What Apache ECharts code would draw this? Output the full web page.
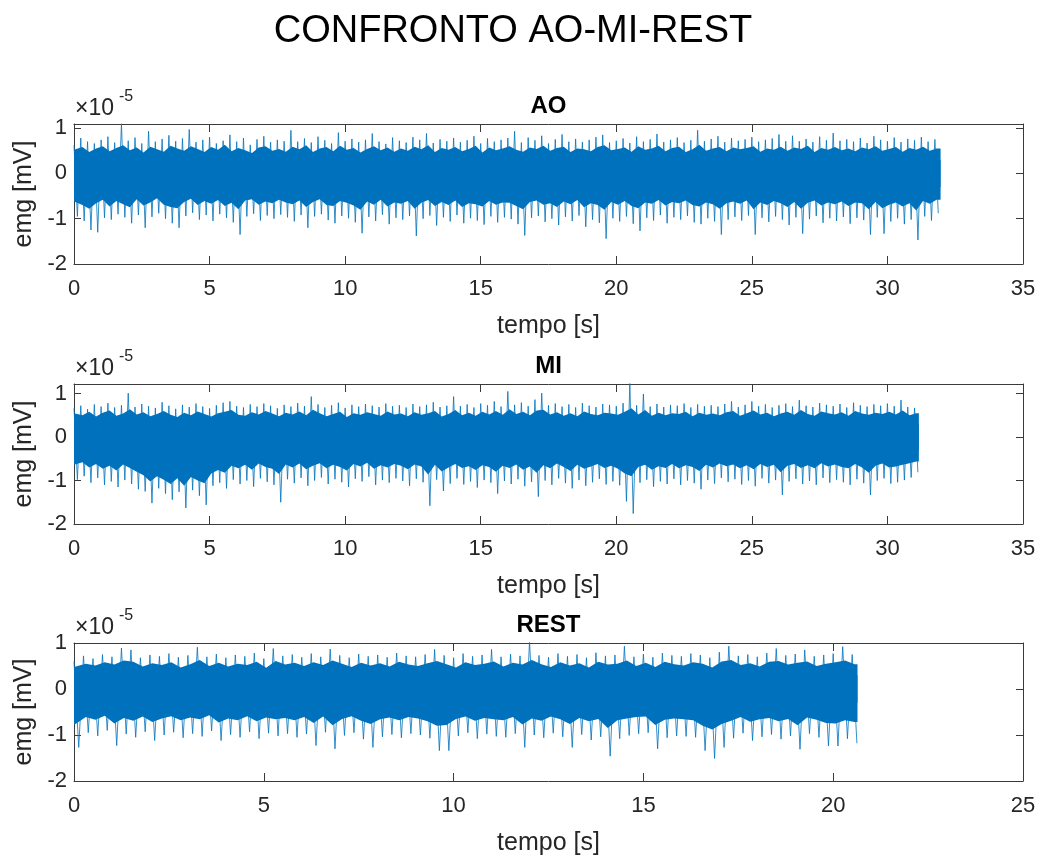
<!DOCTYPE html>
<html>
<head>
<meta charset="utf-8">
<script src="https://cdn.jsdelivr.net/npm/echarts@6/dist/echarts.min.js"></script>
<style>
  html, body { margin: 0; padding: 0; background: #fff; }
  #chart { width: 1045px; height: 857px; }
</style>
</head>
<body>
<div id="chart"></div>
<script>
// EMG traces, amplitudes in units of 1e-5 mV.
// Each trace, per 0.25 s bin: the extreme peak / trough, and the upper /
// lower edge of the dense central band.
const binStep = 0.25;   // s

const panelNames = ['AO', 'MI', 'REST'];
const xMaxes = [35, 35, 25];
const yMaxes = [1.09, 1.22, 1.0];
const yTickValues = [-2, -1, 0, 1];
const xTickStep = 5;

// ---- AO ----
const aoEnd = 31.96;
const aoPeaks = [
  0.62,0.78,0.70,0.66,0.74,0.81,0.68,1.10,0.72,0.79,0.66,0.93,0.70,0.76,0.84,0.71,
  0.77,0.97,0.69,0.74,0.80,0.66,0.72,0.85,0.70,0.78,0.63,0.75,0.82,0.69,0.74,0.71,
  0.95,0.70,0.77,0.68,0.81,0.73,0.66,0.90,0.71,0.76,0.69,0.74,0.88,0.70,0.65,0.79,
  0.72,0.68,0.80,0.74,0.88,0.67,0.75,0.71,0.78,0.69,0.73,0.82,0.66,0.77,0.70,0.74,
  0.78,0.93,0.68,0.79,0.73,0.83,0.66,0.75,0.86,0.70,0.76,0.69,0.74,0.80,0.85,0.68,
  0.72,0.77,0.67,0.81,0.70,0.75,0.87,0.69,0.74,0.79,0.68,0.73,0.95,0.71,0.76,0.82,
  0.69,0.78,0.72,0.75,0.80,0.70,0.74,0.77,0.86,0.71,0.83,0.71,0.76,0.69,0.81,0.73,
  0.89,0.72,0.75,0.70,0.78,0.67,0.82,0.74,0.71,0.79,0.69,0.76,0.73,0.80,0.70,0.75
];
const aoTroughs = [
  -0.95,-1.05,-1.25,-1.30,-0.98,-1.02,-0.90,-0.97,-1.10,-0.92,-1.20,-0.96,-0.88,-1.00,-1.10,-1.20,
  -0.94,-0.87,-1.02,-0.92,-1.05,-0.90,-0.98,-1.08,-1.35,-0.95,-0.89,-1.04,-0.93,-1.00,-0.91,-0.97,
  -1.06,-0.92,-1.20,-0.95,-0.90,-1.03,-1.10,-0.94,-0.99,-1.08,-1.32,-0.96,-1.05,-0.91,-1.12,-0.98,
  -1.02,-0.94,-1.38,-1.00,-0.93,-1.15,-0.97,-1.06,-0.92,-1.10,-0.99,-1.04,-1.13,-0.95,-1.08,-0.97,
  -1.01,-1.12,-1.37,-0.98,-0.94,-1.07,-1.00,-1.14,-0.96,-1.05,-0.93,-1.18,-1.02,-1.09,-1.44,-0.99,
  -1.06,-0.95,-1.11,-1.27,-0.98,-1.04,-0.92,-1.10,-0.97,-1.02,-0.94,-1.08,-1.12,-0.99,-1.06,-1.35,
  -1.02,-0.96,-1.04,-0.93,-1.35,-0.98,-1.07,-0.95,-1.02,-1.14,-0.97,-1.33,-1.01,-0.94,-1.09,-0.99,
  -1.05,-0.96,-1.11,-0.98,-1.03,-1.35,-0.97,-1.33,-1.06,-0.99,-1.12,-1.02,-1.47,-0.95,-1.04,-0.88
];
const aoBandHi = [
  0.52,0.58,0.47,0.55,0.60,0.49,0.56,0.62,0.51,0.57,0.46,0.59,0.53,0.48,0.61,0.55,
  0.50,0.60,0.54,0.47,0.58,0.52,0.63,0.49,0.56,0.51,0.45,0.57,0.60,0.50,0.54,0.48,
  0.59,0.53,0.62,0.47,0.55,0.58,0.49,0.61,0.52,0.56,0.46,0.54,0.60,0.51,0.57,0.48,
  0.55,0.50,0.59,0.53,0.62,0.47,0.56,0.52,0.58,0.49,0.54,0.61,0.46,0.57,0.51,0.55,
  0.60,0.52,0.48,0.57,0.54,0.61,0.50,0.56,0.59,0.47,0.55,0.53,0.49,0.58,0.62,0.51,
  0.54,0.57,0.48,0.60,0.52,0.55,0.61,0.49,0.56,0.59,0.47,0.53,0.63,0.50,0.55,0.58,
  0.49,0.57,0.53,0.56,0.60,0.48,0.55,0.52,0.59,0.50,0.57,0.54,0.61,0.47,0.56,0.52,
  0.58,0.51,0.55,0.49,0.57,0.53,0.60,0.50,0.54,0.58,0.48,0.56,0.52,0.59,0.50,0.55
];
const aoBandLo = [
  -0.62,-0.70,-0.78,-0.66,-0.58,-0.73,-0.61,-0.68,-0.75,-0.57,-0.71,-0.64,-0.55,-0.69,-0.74,-0.77,
  -0.63,-0.56,-0.70,-0.61,-0.67,-0.59,-0.72,-0.65,-0.79,-0.60,-0.57,-0.69,-0.62,-0.66,-0.58,-0.64,
  -0.68,-0.60,-0.74,-0.63,-0.57,-0.70,-0.72,-0.61,-0.65,-0.71,-0.80,-0.62,-0.69,-0.58,-0.73,-0.64,
  -0.67,-0.61,-0.78,-0.65,-0.59,-0.72,-0.63,-0.70,-0.60,-0.74,-0.66,-0.68,-0.73,-0.61,-0.69,-0.64,
  -0.65,-0.72,-0.79,-0.63,-0.60,-0.69,-0.66,-0.74,-0.62,-0.68,-0.59,-0.75,-0.66,-0.70,-0.80,-0.63,
  -0.69,-0.61,-0.72,-0.77,-0.64,-0.67,-0.59,-0.71,-0.63,-0.66,-0.60,-0.70,-0.73,-0.64,-0.68,-0.78,
  -0.66,-0.62,-0.67,-0.60,-0.79,-0.64,-0.70,-0.61,-0.66,-0.74,-0.63,-0.78,-0.65,-0.60,-0.71,-0.64,
  -0.68,-0.62,-0.72,-0.64,-0.66,-0.79,-0.63,-0.77,-0.69,-0.64,-0.73,-0.66,-0.82,-0.61,-0.67,-0.58
];

// ---- MI ----
const miEnd = 31.16;
const miPeaks = [
  0.66,0.72,0.64,0.75,0.70,0.78,0.68,0.73,1.01,0.69,0.76,0.71,0.67,0.80,0.72,0.65,
  0.74,0.69,0.77,0.70,0.66,0.73,0.79,0.82,0.71,0.68,0.75,0.70,0.77,0.72,0.66,0.74,
  0.70,0.78,0.71,0.93,0.75,0.68,0.73,0.79,0.67,0.74,0.70,0.76,0.72,0.69,0.77,0.71,
  0.73,0.68,0.76,0.70,0.74,0.80,0.69,0.72,0.93,0.71,0.75,0.68,0.77,0.73,0.82,0.70,
  1.05,0.74,0.79,0.71,0.86,1.01,0.73,0.77,0.70,0.75,0.68,0.78,0.72,0.69,0.76,0.74,
  0.71,0.78,1.24,0.73,0.99,0.70,0.76,0.69,0.74,0.72,0.77,0.68,0.75,0.71,0.73,0.70,
  0.76,0.82,0.69,0.74,0.82,0.71,0.75,0.68,0.73,0.77,0.70,0.85,0.72,0.69,0.78,0.74,
  0.71,0.76,0.68,0.79,0.73,0.70,0.75,0.72,0.77,0.71,0.85,0.69,0.67
];
const miTroughs = [
  -0.98,-0.90,-1.05,-0.94,-1.10,-1.02,-1.15,-0.99,-1.08,-1.20,-1.25,-1.52,-1.18,-1.30,-1.44,-1.26,
  -1.63,-1.22,-1.35,-1.56,-1.12,-1.05,-1.18,-0.98,-1.08,-1.00,-1.14,-0.95,-1.03,-1.10,-1.50,-0.97,
  -1.06,-0.94,-1.12,-1.00,-0.93,-1.08,-0.97,-1.04,-1.15,-0.96,-1.02,-0.91,-1.10,-0.99,-1.05,-0.95,
  -1.01,-1.12,-0.96,-1.04,-1.58,-0.98,-1.24,-1.07,-0.95,-1.09,-1.02,-1.16,-0.99,-1.05,-1.30,-1.01,
  -1.08,-0.97,-1.13,-1.03,-1.37,-1.00,-1.10,-0.95,-1.06,-1.18,-0.99,-1.12,-1.04,-0.96,-1.09,-1.02,
  -1.11,-1.48,-1.76,-1.05,-0.98,-1.14,-1.02,-1.08,-0.96,-1.10,-1.00,-1.06,-1.20,-0.99,-1.07,-0.94,
  -1.03,-0.97,-1.09,-1.00,-1.13,-0.95,-1.06,-0.99,-1.33,-1.02,-0.96,-1.08,-1.01,-1.10,-0.94,-1.05,
  -0.98,-1.04,-1.10,-0.97,-1.06,-1.33,-1.00,-0.95,-1.07,-1.04,-0.99,-0.93,-0.81
];
const miBandHi = [
  0.55,0.50,0.58,0.47,0.56,0.61,0.49,0.54,0.64,0.52,0.57,0.48,0.53,0.60,0.51,0.46,
  0.56,0.50,0.59,0.53,0.47,0.55,0.58,0.62,0.51,0.49,0.57,0.52,0.60,0.54,0.48,0.56,
  0.52,0.59,0.50,0.63,0.55,0.48,0.53,0.58,0.46,0.55,0.51,0.57,0.53,0.49,0.59,0.52,
  0.54,0.48,0.57,0.51,0.55,0.60,0.47,0.53,0.62,0.50,0.56,0.49,0.58,0.52,0.60,0.51,
  0.64,0.53,0.58,0.50,0.61,0.63,0.52,0.57,0.49,0.55,0.48,0.59,0.53,0.50,0.56,0.54,
  0.51,0.58,0.66,0.52,0.62,0.49,0.56,0.50,0.55,0.53,0.58,0.48,0.56,0.51,0.54,0.50,
  0.57,0.60,0.49,0.55,0.61,0.52,0.56,0.48,0.54,0.58,0.51,0.62,0.53,0.49,0.59,0.55,
  0.52,0.57,0.49,0.60,0.54,0.51,0.56,0.53,0.58,0.52,0.61,0.50,0.55
];
const miBandLo = [
  -0.64,-0.58,-0.70,-0.62,-0.73,-0.66,-0.77,-0.63,-0.71,-0.80,-0.88,-1.02,-0.90,-0.98,-1.08,-0.95,
  -1.12,-0.92,-1.00,-1.06,-0.84,-0.76,-0.82,-0.66,-0.72,-0.64,-0.75,-0.61,-0.69,-0.73,-0.85,-0.63,
  -0.70,-0.61,-0.74,-0.66,-0.60,-0.72,-0.64,-0.69,-0.77,-0.62,-0.68,-0.59,-0.73,-0.65,-0.70,-0.62,
  -0.66,-0.74,-0.63,-0.68,-0.86,-0.64,-0.79,-0.70,-0.62,-0.71,-0.67,-0.76,-0.65,-0.69,-0.80,-0.66,
  -0.71,-0.63,-0.75,-0.68,-0.82,-0.65,-0.72,-0.61,-0.69,-0.78,-0.64,-0.73,-0.68,-0.62,-0.71,-0.66,
  -0.73,-0.84,-0.90,-0.69,-0.64,-0.75,-0.67,-0.71,-0.62,-0.72,-0.65,-0.69,-0.78,-0.64,-0.70,-0.61,
  -0.67,-0.63,-0.72,-0.65,-0.74,-0.62,-0.69,-0.64,-0.81,-0.66,-0.62,-0.71,-0.65,-0.72,-0.60,-0.68,
  -0.63,-0.69,-0.72,-0.62,-0.70,-0.82,-0.66,-0.61,-0.70,-0.68,-0.64,-0.60,-0.56
];

// ---- REST ----
const restEnd = 20.64;
const restPeaks = [
  0.60,0.72,0.66,0.75,0.70,0.89,0.85,0.68,0.74,0.71,0.77,0.69,0.73,0.91,0.70,0.76,
  0.68,0.74,0.71,0.78,0.66,0.88,0.72,0.75,0.69,0.77,0.70,0.87,0.73,0.68,0.76,0.71,
  0.74,0.69,0.78,0.72,0.70,0.75,0.86,0.73,0.68,0.77,0.71,0.74,0.86,0.70,0.76,0.72,
  1.04,0.73,0.69,0.77,0.71,0.75,0.68,0.79,0.72,0.74,0.93,0.70,0.76,0.69,0.78,0.73,
  0.71,0.77,0.74,0.68,0.80,0.93,0.72,0.75,0.70,0.78,0.88,0.73,0.76,0.85,0.71,0.74,
  0.77,0.92,0.75
];
const restTroughs = [
  -1.27,-0.95,-1.02,-0.90,-1.23,-0.98,-1.05,-0.93,-1.12,-1.00,-0.94,-1.06,-0.97,-1.03,-0.91,-1.12,
  -0.99,-1.05,-0.93,-1.08,-0.96,-1.02,-0.97,-1.05,-0.98,-1.23,-0.94,-1.30,-1.01,-0.95,-1.09,-1.27,
  -1.04,-0.99,-1.06,-0.97,-1.00,-1.07,-1.34,-1.34,-1.02,-0.95,-1.08,-0.98,-1.03,-1.05,-0.97,-1.27,
  -1.00,-1.06,-0.96,-1.04,-1.27,-0.99,-1.11,-1.04,-1.46,-1.08,-1.01,-0.97,-0.95,-1.30,-1.06,-1.02,
  -1.03,-1.05,-1.34,-1.51,-1.27,-1.07,-0.96,-1.12,-1.04,-0.99,-1.09,-1.02,-1.31,-0.97,-1.05,-1.24,
  -1.24,-1.08,-1.18
];
const restBandHi = [
  0.48,0.55,0.51,0.58,0.53,0.62,0.59,0.49,0.56,0.52,0.58,0.47,0.54,0.63,0.50,0.57,
  0.49,0.55,0.52,0.59,0.46,0.61,0.53,0.57,0.50,0.58,0.52,0.62,0.55,0.48,0.57,0.51,
  0.56,0.49,0.59,0.53,0.50,0.56,0.61,0.54,0.47,0.58,0.52,0.55,0.60,0.49,0.57,0.53,
  0.63,0.54,0.48,0.58,0.51,0.56,0.47,0.59,0.53,0.55,0.62,0.50,0.57,0.48,0.59,0.54,
  0.51,0.58,0.55,0.47,0.60,0.63,0.52,0.56,0.49,0.59,0.61,0.53,0.57,0.60,0.50,0.55,
  0.58,0.62,0.54
];
const restBandLo = [
  -0.78,-0.61,-0.67,-0.58,-0.75,-0.63,-0.69,-0.60,-0.72,-0.64,-0.59,-0.68,-0.62,-0.66,-0.57,-0.73,
  -0.64,-0.68,-0.59,-0.70,-0.62,-0.66,-0.63,-0.68,-0.61,-0.74,-0.60,-0.79,-0.65,-0.59,-0.69,-0.76,
  -0.66,-0.62,-0.68,-0.61,-0.64,-0.70,-0.80,-0.78,-0.65,-0.60,-0.69,-0.63,-0.66,-0.68,-0.61,-0.77,
  -0.64,-0.69,-0.60,-0.66,-0.76,-0.63,-0.70,-0.65,-0.85,-0.68,-0.64,-0.61,-0.60,-0.78,-0.67,-0.64,
  -0.66,-0.68,-0.80,-0.88,-0.76,-0.69,-0.61,-0.71,-0.66,-0.63,-0.70,-0.65,-0.79,-0.62,-0.67,-0.74,
  -0.75,-0.68,-0.72
];

const traces = [
  { end: aoEnd,   peaks: aoPeaks,   troughs: aoTroughs,   bandHi: aoBandHi,   bandLo: aoBandLo },
  { end: miEnd,   peaks: miPeaks,   troughs: miTroughs,   bandHi: miBandHi,   bandLo: miBandLo },
  { end: restEnd, peaks: restPeaks, troughs: restTroughs, bandHi: restBandHi, bandLo: restBandLo }
];

// ---- styling / layout ----
const BLUE = '#0072BD';
const AXIS = '#3a3a3a';
const TEXT = '#262626';
const FONT = '"Liberation Sans", Arial, Helvetica, sans-serif';
const plotLeft = 74, plotWidth = 949;
const plotTops = [124, 384, 643];
const plotHeights = [140, 140, 139];

// Peak/trough pairs become an alternating polyline.
function zigzag(peaks, troughs) {
  const pts = [];
  peaks.forEach((p, i) => {
    const t = i * binStep;
    pts.push([t, p]);
    pts.push([t + binStep / 2, troughs[i]]);
  });
  return pts;
}
// Band edge, one point per bin, closed at the end of the recording.
function bandEdge(values, end) {
  const pts = values.map((v, i) => [i === 0 ? 0 : i * binStep + binStep / 4, v]);
  pts.push([end, values[values.length - 1]]);
  return pts;
}

const grids = [], xAxes = [], yAxes = [], series = [], graphics = [];

traces.forEach((tr, k) => {
  grids.push({ left: plotLeft, top: plotTops[k], width: plotWidth, height: plotHeights[k], containLabel: false });

  const xBase = {
    type: 'value', gridIndex: k, min: 0, max: xMaxes[k], interval: xTickStep,
    axisLine: { show: true, onZero: false, lineStyle: { color: AXIS, width: 1 } },
    axisTick: { show: true, inside: true, length: 8, lineStyle: { color: AXIS, width: 1 } },
    splitLine: { show: false }
  };
  xAxes.push(Object.assign({}, xBase, {
    position: 'bottom',
    axisLabel: { color: TEXT, fontSize: 22, fontFamily: FONT, margin: 14 },
    name: 'tempo [s]', nameLocation: 'middle', nameGap: 50,
    nameTextStyle: { color: TEXT, fontSize: 25, fontFamily: FONT }
  }));
  xAxes.push(Object.assign({}, xBase, { position: 'top', axisLabel: { show: false } }));

  const yBase = {
    type: 'value', gridIndex: k, min: -2, max: yMaxes[k], interval: 1,
    axisLine: { show: true, onZero: false, lineStyle: { color: AXIS, width: 1 } },
    axisTick: { show: true, inside: true, length: 7, lineStyle: { color: AXIS, width: 1 } },
    splitLine: { show: false }
  };
  yAxes.push(Object.assign({}, yBase, {
    position: 'left',
    axisLabel: {
      color: TEXT, fontSize: 22, fontFamily: FONT, margin: 7, padding: [9, 0, 0, 0],
      formatter: v => (yTickValues.indexOf(Math.round(v * 1000) / 1000) >= 0 ? String(v) : '')
    },
    name: 'emg [mV]', nameLocation: 'middle', nameGap: 33, nameRotate: 90,
    nameTextStyle: { color: TEXT, fontSize: 25, fontFamily: FONT }
  }));
  yAxes.push(Object.assign({}, yBase, { position: 'right', axisLabel: { show: false } }));

  const axisRef = { xAxisIndex: 2 * k, yAxisIndex: 2 * k };
  // dense central band: upper edge filled down past zero, lower edge filled up past zero
  series.push(Object.assign({
    type: 'line', data: bandEdge(tr.bandHi, tr.end), symbol: 'none', silent: true,
    lineStyle: { width: 0 }, areaStyle: { color: BLUE, opacity: 1, origin: -0.3 }, z: 2
  }, axisRef));
  series.push(Object.assign({
    type: 'line', data: bandEdge(tr.bandLo, tr.end), symbol: 'none', silent: true,
    lineStyle: { width: 0 }, areaStyle: { color: BLUE, opacity: 1, origin: 0.3 }, z: 2
  }, axisRef));
  // spike trace
  series.push(Object.assign({
    type: 'line', data: zigzag(tr.peaks, tr.troughs), symbol: 'none', silent: true,
    sampling: null, lineStyle: { width: 0.8, color: BLUE }, z: 3
  }, axisRef));

  // panel title
  graphics.push({
    type: 'text', x: plotLeft + plotWidth / 2, y: plotTops[k] - 18,
    style: { text: panelNames[k], font: 'bold 24px ' + FONT, fill: '#000', align: 'center', verticalAlign: 'middle' }
  });
  // exponent of the y axis
  graphics.push({
    type: 'text', x: plotLeft + 1, y: plotTops[k] - 15,
    style: { text: '×10', font: '23px ' + FONT, fill: TEXT, align: 'left', verticalAlign: 'middle' }
  });
  graphics.push({
    type: 'text', x: plotLeft + 45, y: plotTops[k] - 27,
    style: { text: '-5', font: '16px ' + FONT, fill: TEXT, align: 'left', verticalAlign: 'middle' }
  });
});

graphics.push({
  type: 'text', x: 513, y: 32,
  style: { text: 'CONFRONTO AO-MI-REST', font: '38px ' + FONT, fill: '#000', align: 'center', verticalAlign: 'middle' }
});

const chart = echarts.init(document.getElementById('chart'), null, { renderer: 'canvas' });
chart.setOption({
  backgroundColor: '#fff',
  animation: false,
  grid: grids,
  xAxis: xAxes,
  yAxis: yAxes,
  series: series,
  graphic: graphics
});
</script>
</body>
</html>
